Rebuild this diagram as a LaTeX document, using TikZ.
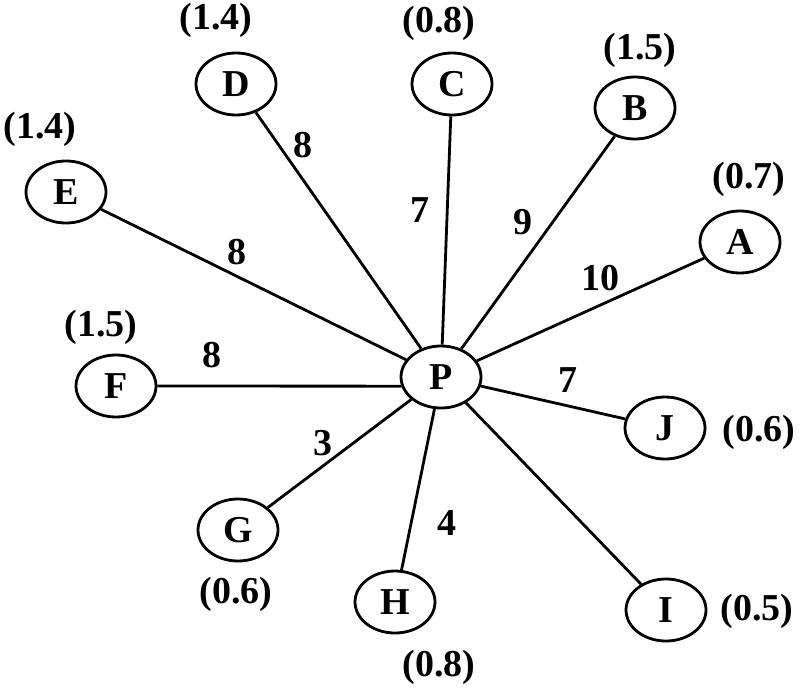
\documentclass[tikz,border=0pt]{standalone}
\usepackage{fontspec}
\setmainfont{Liberation Serif}
\usetikzlibrary{shapes.geometric}
\begin{document}
\begin{tikzpicture}[x=1pt,y=-1pt,
  vertex/.style={draw,ellipse,line width=2.8pt,minimum width=80pt,minimum height=62pt,inner sep=0pt,font=\fontsize{38}{42}\selectfont\bfseries},
  lab/.style={inner sep=0pt,font=\fontsize{38}{42}\selectfont\bfseries},
  edge/.style={line width=2.8pt}]
\useasboundingbox (0,0) rectangle (802,690);
\node[vertex] (P) at (441,377) {P};
\node[vertex] (A) at (740,242) {A};
\node[vertex] (B) at (635,108) {B};
\node[vertex] (C) at (452,84) {C};
\node[vertex] (D) at (236,84) {D};
\node[vertex] (E) at (66,192) {E};
\node[vertex] (F) at (116,386) {F};
\node[vertex] (G) at (238,530) {G};
\node[vertex] (H) at (395,602) {H};
\node[vertex] (I) at (666,610) {I};
\node[vertex] (J) at (665,428) {J};
\node[lab] (wA) at (749,179) {(0.7)};
\node[lab] (wB) at (640,50) {(1.5)};
\node[lab] (wC) at (439,23) {(0.8)};
\node[lab] (wD) at (216,20) {(1.4)};
\node[lab] (wE) at (40,129) {(1.4)};
\node[lab] (wF) at (101,327) {(1.5)};
\node[lab] (wG) at (236,594) {(0.6)};
\node[lab] (wH) at (439,667) {(0.8)};
\node[lab] (wI) at (757,611) {(0.5)};
\node[lab] (wJ) at (759,432) {(0.6)};
\draw[edge] (P) -- (A);
\draw[edge] (P) -- (B);
\draw[edge] (P) -- (C);
\draw[edge] (P) -- (D);
\draw[edge] (P) -- (E);
\draw[edge] (P.193) -- (F);
\draw[edge] (P) -- (G);
\draw[edge] (P) -- (H);
\draw[edge] (P) -- (I);
\draw[edge] (P) -- (J);
\node[lab] (lA) at (600,278) {10};
\node[lab] (lB) at (523,222) {9};
\node[lab] (lC) at (420,210) {7};
\node[lab] (lD) at (303,145) {8};
\node[lab] (lE) at (237,252) {8};
\node[lab] (lF) at (212,355) {8};
\node[lab] (lG) at (323,443) {3};
\node[lab] (lH) at (447,523) {4};
\node[lab] (lJ) at (568,380) {7};
\end{tikzpicture}
\end{document}
